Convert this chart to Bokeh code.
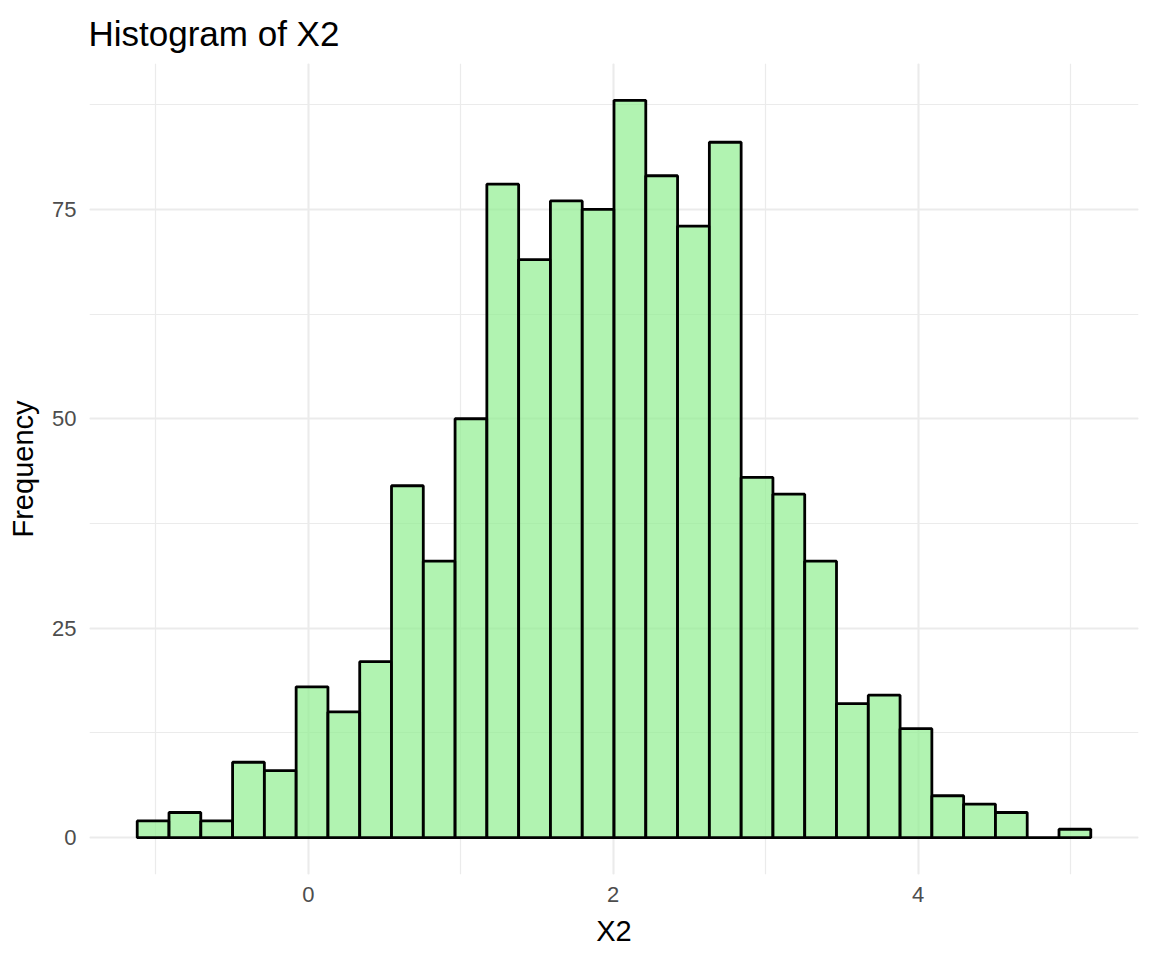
from bokeh.plotting import figure
from bokeh.models import Range1d, SingleIntervalTicker, ColumnDataSource
from bokeh.embed import file_html
from bokeh.resources import INLINE

# ---- data ----
bin_start = -1.122
bin_width = 0.2085
counts = [2, 3, 2, 9, 8, 18, 15, 21, 42, 33, 50, 78, 69, 76, 75,
          88, 79, 73, 83, 43, 41, 33, 16, 17, 13, 5, 4, 3, 0, 1]
x_ticks = [0, 2, 4]
y_ticks = [0, 25, 50, 75]
title_text = "Histogram of X2"
x_label = "X2"
y_label = "Frequency"

lefts = [bin_start + i * bin_width for i in range(len(counts))]
rights = [l + bin_width for l in lefts]
src = ColumnDataSource(dict(left=lefts, right=rights, top=counts, bottom=[0] * len(counts)))

FONT = "Liberation Sans"

p = figure(width=1144, height=952, output_backend="svg", toolbar_location=None,
           x_range=Range1d(-1.435, 5.446), y_range=Range1d(-4.4, 92.4),
           min_border_left=89, min_border_right=6, min_border_top=63, min_border_bottom=78)
p.outline_line_color = None
p.background_fill_color = "white"
p.border_fill_color = "white"

p.title.text = title_text
p.title.text_font = FONT
p.title.text_font_size = "35px"
p.title.text_font_style = "normal"
p.title.text_color = "black"
p.title.align = "left"
p.title.offset = -1
p.title.standoff = 21

p.quad(left="left", right="right", top="top", bottom="bottom", source=src,
       fill_color="#90EE90", fill_alpha=0.7, line_color="black", line_width=2.8)

p.xaxis.ticker = SingleIntervalTicker(interval=2, num_minor_ticks=2)
p.yaxis.ticker = SingleIntervalTicker(interval=25, num_minor_ticks=2)

for ax in (p.xaxis, p.yaxis):
    ax.axis_line_color = None
    ax.major_tick_line_color = None
    ax.minor_tick_line_color = None
    ax.major_tick_out = 0
    ax.major_tick_in = 0
    ax.minor_tick_out = 0
    ax.minor_tick_in = 0
    ax.major_label_text_font = FONT
    ax.major_label_text_font_size = "22px"
    ax.major_label_text_color = "#4D4D4D"
    ax.axis_label_text_font = FONT
    ax.axis_label_text_font_size = "29px"
    ax.axis_label_text_font_style = "normal"
    ax.axis_label_text_color = "black"

p.xaxis.axis_label = x_label
p.yaxis.axis_label = y_label
p.xaxis.major_label_standoff = 12
p.yaxis.major_label_standoff = 13
p.xaxis.axis_label_standoff = 10
p.yaxis.axis_label_standoff = 10

for g in (p.xgrid, p.ygrid):
    g.grid_line_color = "#EBEBEB"
    g.grid_line_width = 2
    g.minor_grid_line_color = "#EBEBEB"
    g.minor_grid_line_width = 1.2

html = file_html(p, INLINE)
open("out.html", "w").write(html)
